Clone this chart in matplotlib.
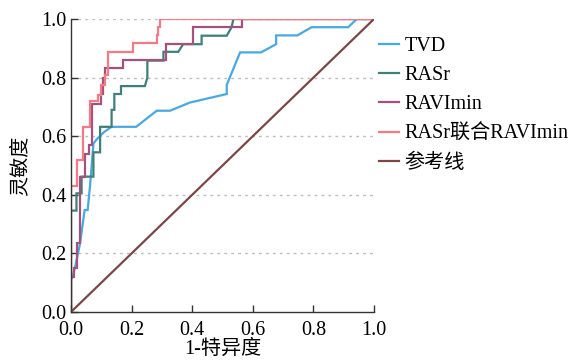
import matplotlib
matplotlib.use("Agg")
import matplotlib.pyplot as plt

plt.rcParams['font.family'] = ['Liberation Serif', 'Noto Sans CJK SC', 'DejaVu Sans']

# TVD
tvd_fpr = [0, 0, 0.005, 0.015, 0.03, 0.045, 0.055, 0.063, 0.074, 0.087, 0.11, 0.134, 0.215, 0.283, 0.327, 0.393,
           0.514, 0.514, 0.558, 0.627, 0.677, 0.677, 0.747, 0.794, 0.915, 0.943, 1.0]
tvd_tpr = [0, 0.11, 0.12, 0.16, 0.235, 0.348, 0.348, 0.433, 0.575, 0.592, 0.615, 0.632, 0.632, 0.687, 0.687, 0.715,
           0.744, 0.775, 0.886, 0.886, 0.914, 0.944, 0.944, 0.972, 0.972, 1.0, 1.0]

# RASr
rasr_fpr = [0, 0, 0.018, 0.018, 0.035, 0.035, 0.074, 0.074, 0.096, 0.096, 0.134, 0.134, 0.143, 0.143, 0.165,
            0.165, 0.244, 0.252, 0.252, 0.305, 0.305, 0.354, 0.37, 0.431, 0.431, 0.514, 0.53, 0.536, 1.0]
rasr_tpr = [0, 0.346, 0.346, 0.405, 0.405, 0.462, 0.462, 0.545, 0.545, 0.632, 0.632, 0.69, 0.69, 0.744, 0.744,
            0.771, 0.771, 0.80, 0.858, 0.858, 0.888, 0.888, 0.914, 0.914, 0.943, 0.943, 0.972, 1.0, 1.0]

# RAVImin
ravi_fpr = [0, 0, 0.01, 0.01, 0.02, 0.02, 0.03, 0.03, 0.045, 0.045, 0.06, 0.06, 0.07, 0.07, 0.1, 0.1, 0.105,
            0.105, 0.113, 0.113, 0.173, 0.173, 0.313, 0.313, 0.404, 0.404, 0.565, 0.565, 1.0]
ravi_tpr = [0, 0.12, 0.12, 0.15, 0.15, 0.235, 0.235, 0.46, 0.46, 0.54, 0.54, 0.57, 0.57, 0.71, 0.71, 0.745,
            0.745, 0.80, 0.80, 0.834, 0.834, 0.86, 0.86, 0.914, 0.914, 0.972, 0.972, 1.0, 1.0]

# RASr联合RAVImin
comb_fpr = [0, 0, 0.02, 0.02, 0.04, 0.04, 0.063, 0.063, 0.09, 0.09, 0.099, 0.099, 0.112, 0.112, 0.123, 0.123,
            0.204, 0.204, 0.283, 0.283, 0.287, 0.287, 0.294, 0.294, 1.0]
comb_tpr = [0, 0.43, 0.43, 0.52, 0.52, 0.63, 0.63, 0.72, 0.72, 0.74, 0.74, 0.775, 0.775, 0.81, 0.81, 0.886,
            0.886, 0.917, 0.917, 0.945, 0.945, 0.974, 0.974, 1.0, 1.0]

ref_x = [0, 1]
ref_y = [0, 1]

labels = ['TVD', 'RASr', 'RAVImin', 'RASr联合RAVImin', '参考线']
colors = ['#4aa8e0', '#3f7f78', '#a3527f', '#f27b86', '#7b4648']
xticks = [0.0, 0.2, 0.4, 0.6, 0.8, 1.0]
yticks = [0.0, 0.2, 0.4, 0.6, 0.8, 1.0]

FS = 14.5

fig = plt.figure(figsize=(5.8, 3.63), dpi=100)
ax = fig.add_axes([71/580, 51/363, 303/580, 293/363])

for yv in yticks[1:]:
    ax.axhline(yv, color='#bdbdbd', lw=1.0, ls=(0, (2, 3)), zorder=0)

series = [(tvd_fpr, tvd_tpr), (rasr_fpr, rasr_tpr), (ravi_fpr, ravi_tpr), (comb_fpr, comb_tpr), (ref_x, ref_y)]
for (xs, ys), lab, c in zip(series, labels, colors):
    ax.plot(xs, ys, color=c, lw=1.6, label=lab, solid_joinstyle='miter')

ax.set_xlim(0, 1)
ax.set_ylim(0, 1)
ax.set_xticks(xticks)
ax.set_yticks(yticks)
ax.set_xticklabels([f'{v:.1f}' for v in xticks])
ax.set_yticklabels([f'{v:.1f}' for v in yticks])
ax.tick_params(direction='in', length=5, width=1.0, color='#333333', labelsize=FS)
ax.tick_params(axis='x', pad=6.5)
ax.tick_params(axis='y', pad=3)
for s in ['top', 'right']:
    ax.spines[s].set_visible(False)
for s in ['left', 'bottom']:
    ax.spines[s].set_color('#333333')
    ax.spines[s].set_linewidth(1.0)

ax.set_xlabel('1-特异度', fontsize=FS, labelpad=0)
ax.set_ylabel('灵敏度', fontsize=FS, labelpad=8)

fig.legend(loc='upper left', bbox_to_anchor=(371/580, 1 - 29/363), frameon=False, fontsize=FS,
           handlelength=1.0, handletextpad=0.25, labelspacing=0.5, borderaxespad=0)

fig.savefig('out.png', dpi=100)
